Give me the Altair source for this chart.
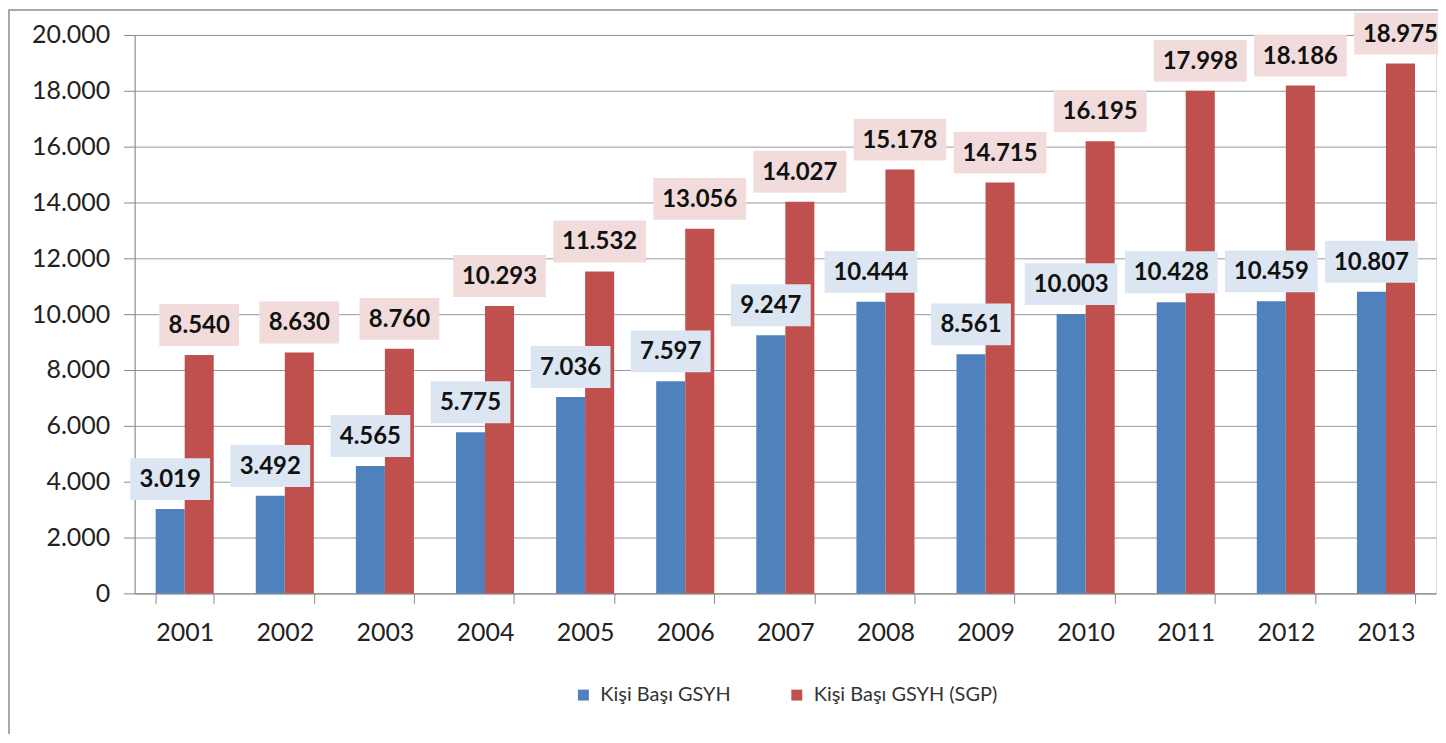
import altair as alt
import pandas as pd

years = ["2001", "2002", "2003", "2004", "2005", "2006", "2007",
         "2008", "2009", "2010", "2011", "2012", "2013"]
gsyh = [3019, 3492, 4565, 5775, 7036, 7597, 9247, 10444, 8561, 10003, 10428, 10459, 10807]
gsyh_sgp = [8540, 8630, 8760, 10293, 11532, 13056, 14027, 15178, 14715, 16195, 17998, 18186, 18975]
series_names = ["Kişi Başı GSYH", "Kişi Başı GSYH (SGP)"]
bar_colors = ["#4f81bd", "#c0504d"]
box_colors = ["#dce6f2", "#f2dcdb"]

rows = []
for i, y in enumerate(years):
    rows.append({"year": y, "series": series_names[0], "value": gsyh[i], "box": box_colors[0]})
    rows.append({"year": y, "series": series_names[1], "value": gsyh_sgp[i], "box": box_colors[1]})
df = pd.DataFrame(rows)

FONT = "Lato"
W, H = 1305, 560

x_enc = alt.X("year:N", sort=years, title=None,
              scale=alt.Scale(paddingInner=0.42, paddingOuter=0.21),
              axis=alt.Axis(labelAngle=0, labelFontSize=25, labelFont=FONT, labelColor="#222",
                            labelPadding=17, tickBand="extent", tickSize=10,
                            tickColor="#888", domainColor="#888", grid=False))
xoff = alt.XOffset("series:N", sort=series_names, scale=alt.Scale(paddingInner=0, paddingOuter=0))
y_enc = alt.Y("value:Q", title=None,
              scale=alt.Scale(domain=[0, 20000], nice=False),
              axis=alt.Axis(values=list(range(0, 20001, 2000)), labelFontSize=25, labelFont=FONT,
                            labelColor="#222", labelPadding=14, tickSize=11, tickColor="#888",
                            domainColor="#888", gridColor="#8c8c8c", gridOpacity=0.9,
                            labelExpr="replace(format(datum.value, ','), ',', '.')"))

bars = alt.Chart(df).mark_bar().encode(
    x=x_enc, xOffset=xoff, y=y_enc,
    color=alt.Color("series:N", sort=series_names,
                    scale=alt.Scale(domain=series_names, range=bar_colors),
                    legend=alt.Legend(title=None, orient="none", direction="horizontal",
                                      legendX=440, legendY=652, symbolType="square",
                                      symbolSize=120, symbolStrokeWidth=0, labelFontSize=20,
                                      labelFont=FONT, labelColor="#333", columnPadding=56,
                                      labelOffset=7, labelLimit=0, symbolOpacity=1)),
)

labeled = alt.Chart(df).transform_calculate(
    label="replace(format(datum.value, ','), ',', '.')"
).transform_calculate(
    bw="length(datum.label) * 13 + 15"
).transform_calculate(
    r="21 / (datum.bw / 2)",
    sz="datum.bw * datum.bw"
).transform_calculate(
    shp="'M-1,-' + datum.r + 'L1,-' + datum.r + 'L1,' + datum.r + 'L-1,' + datum.r + 'Z'"
)

boxes = labeled.mark_point(filled=True, opacity=1, strokeWidth=0, yOffset=-30).encode(
    x=alt.X("year:N", sort=years), xOffset=xoff,
    y=alt.Y("value:Q"),
    fill=alt.Fill("box:N", scale=None),
    size=alt.Size("sz:Q", scale=None),
    shape=alt.Shape("shp:N", scale=None),
)

texts = labeled.mark_text(fontSize=24, fontWeight="bold", font=FONT, color="#111",
                          baseline="middle", yOffset=-29).encode(
    x=alt.X("year:N", sort=years), xOffset=xoff,
    y=alt.Y("value:Q"),
    text="label:N",
)

frame = alt.Chart(pd.DataFrame({"a": [0]})).mark_rect(
    fill=None, stroke="#8e8e8e", strokeWidth=1.5
).encode(x=alt.value(-126), x2=alt.value(W + 60), y=alt.value(-25), y2=alt.value(H + 300))

chart = alt.layer(frame, bars, boxes, texts).properties(
    width=W, height=H,
    autosize=alt.AutoSizeParams(type="none"),
    padding={"left": 127, "top": 26, "right": 2, "bottom": 140},
).configure_view(stroke=None).configure(background="white")

chart.save("out.html", embed_options={"renderer": "svg", "actions": False})
